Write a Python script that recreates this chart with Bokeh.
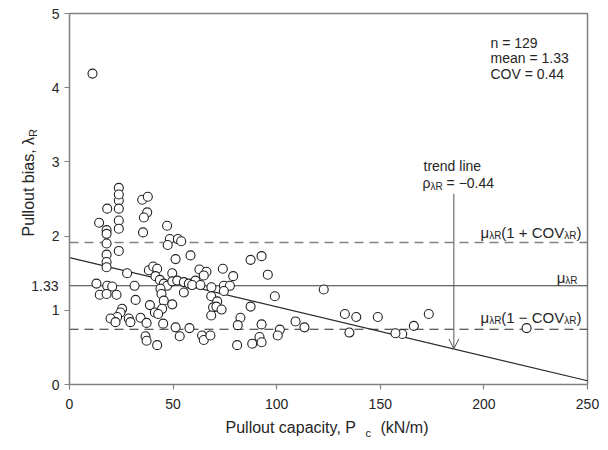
import math
from bokeh.plotting import figure
from bokeh.models import Range1d, FixedTicker, Label, Arrow, OpenHead
from bokeh.embed import file_html
from bokeh.resources import INLINE

# ---------------- data ----------------
capacity = [11.1, 14.3, 18.2, 17.9, 17.9, 17.9, 17.9, 17.9, 17.9, 23.8,
            23.8, 23.8, 23.8, 23.8, 23.8, 35.1, 37.8, 37.5, 35.9, 35.5,
            47.1, 48.4, 52.3, 53.9, 47.4, 51.2, 58.4, 27.8, 38.3, 40.4,
            42.3, 41.5, 49.6, 43.6, 45.5, 47.1, 49.6, 52.0, 55.2, 57.6,
            13.0, 18.2, 20.6, 14.6, 17.9, 22.7, 31.4, 43.9, 44.4, 55.2,
            31.9, 45.5, 49.6, 38.8, 41.2, 44.7, 42.8, 25.4, 24.6, 23.0,
            19.8, 22.2, 28.6, 29.4, 34.3, 37.2, 45.2, 51.2, 53.2, 57.9,
            36.7, 37.2, 42.3, 62.7, 66.1, 64.8, 60.8, 59.2, 63.2, 68.5,
            68.4, 71.3, 69.3, 70.9, 73.4, 68.4, 74.0, 79.0, 74.5, 77.4,
            74.5, 87.4, 92.7, 95.7, 99.1, 87.4, 82.5, 81.2, 92.7, 101.5,
            100.5, 109.1, 113.4, 64.0, 64.8, 68.0, 80.9, 88.2, 91.7, 92.7,
            122.7, 132.9, 138.4, 148.8, 135.1, 173.4, 166.2, 160.6, 157.3, 220.6,
            23.8]
bias = [4.19, 2.18, 2.37, 2.08, 2.03, 1.90, 1.75, 1.65, 1.58, 2.65,
        2.48, 2.37, 2.21, 2.10, 1.80, 2.49, 2.53, 2.32, 2.25, 2.05,
        2.14, 1.96, 1.96, 1.93, 1.88, 1.69, 1.74, 1.50, 1.54, 1.59,
        1.56, 1.46, 1.50, 1.41, 1.36, 1.33, 1.39, 1.40, 1.38, 1.36,
        1.36, 1.33, 1.32, 1.21, 1.22, 1.21, 1.33, 1.29, 1.22, 1.24,
        1.14, 1.13, 1.08, 1.07, 0.97, 1.02, 0.95, 1.02, 0.97, 0.91,
        0.89, 0.84, 0.89, 0.84, 0.90, 0.83, 0.82, 0.77, 0.65, 0.76,
        0.65, 0.59, 0.53, 1.55, 1.52, 1.47, 1.40, 1.34, 1.34, 1.31,
        1.19, 1.12, 1.04, 1.05, 1.01, 0.93, 1.56, 1.46, 1.33, 1.33,
        1.26, 1.68, 1.73, 1.48, 1.19, 1.05, 0.90, 0.80, 0.81, 0.74,
        0.66, 0.85, 0.77, 0.66, 0.60, 0.66, 0.53, 0.55, 0.64, 0.57,
        1.28, 0.95, 0.91, 0.91, 0.70, 0.95, 0.79, 0.68, 0.69, 0.76,
        2.56]
n_tests = 129
mean_bias = 1.33
cov_bias = 0.44
trend_x = [0, 250]
trend_y = [1.71, 0.05]
arrow_x = 185.5
arrow_y = [2.57, 0.48]
x_ticks = [0, 50, 100, 150, 200, 250]
y_ticks = [0, 1, 2, 3, 4, 5]

# ---------------- layout constants ----------------
W, H = 608, 450
FL, FR, FT, FB = 69, 587, 13, 384   # axes box edges in canvas px
FONT = "Liberation Sans"
TXT = "#262626"
GRAY = "#808080"

x0, x1 = x_ticks[0], x_ticks[-1]
y0, y1 = y_ticks[0], y_ticks[-1]
sx = (FR - FL) / (x1 - x0)
sy = (FB - FT) / (y1 - y0)
# the plotting frame covers the whole canvas; axes are pinned at the origin
p = figure(width=W, height=H,
           x_range=Range1d(x0 - FL / sx, x1 + (W - FR) / sx),
           y_range=Range1d(y0 - (H - FB) / sy, y1 + FT / sy),
           output_backend="svg", toolbar_location=None,
           min_border_left=0, min_border_right=0,
           min_border_top=0, min_border_bottom=0)
p.title.visible = False
p.grid.visible = False
p.background_fill_color = "white"
p.border_fill_color = "white"
p.outline_line_color = None

for ax in (p.xaxis[0], p.yaxis[0]):
    ax.fixed_location = 0
    ax.axis_line_color = GRAY
    ax.axis_line_width = 1.5
    ax.major_tick_line_color = GRAY
    ax.major_tick_line_width = 1.2
    ax.major_tick_in = 0
    ax.major_tick_out = 5
    ax.minor_tick_line_color = None
    ax.major_label_text_font = FONT
    ax.major_label_text_font_size = "14px"
    ax.major_label_text_color = TXT
p.xaxis.ticker = FixedTicker(ticks=x_ticks)
p.yaxis.ticker = FixedTicker(ticks=y_ticks)
p.xaxis.bounds = (x0, x1)
p.yaxis.bounds = (y0, y1)
p.xaxis.major_label_standoff = 9
p.yaxis.major_label_standoff = 5

# top and right box edges
p.line([x0, x1, x1], [y1, y1, y0], line_color=GRAY, line_width=1.5)

# reference lines
p.line([x0, x1], [mean_bias * (1 + cov_bias)] * 2,
       line_color=GRAY, line_width=1.5, line_dash="9 6")
p.line([x0, x1], [mean_bias] * 2, line_color="#3a3a3a", line_width=1.1)
p.line([x0, x1], [mean_bias * (1 - cov_bias)] * 2,
       line_color="#2a2a2a", line_width=1.2, line_dash="9 6")

# trend line
p.line(trend_x, trend_y, line_color="#2a2a2a", line_width=1.2)

# arrow
p.add_layout(Arrow(end=OpenHead(size=10, line_color="#555555", line_width=1),
                   x_start=arrow_x, y_start=arrow_y[0], x_end=arrow_x, y_end=arrow_y[1],
                   line_color="#555555", line_width=1))

# data points
p.scatter(capacity, bias, size=9, fill_color="white", line_color="#222222",
          line_width=1.1)

# ---------------- text helpers ----------------
CW = {' ': .278, '(': .333, ')': .333, '+': .584, '=': .584, '\u2212': .584,
      '.': .278, ',': .278, '/': .278, 'A': .667, 'C': .722, 'O': .778,
      'V': .667, 'P': .667, 'N': .722, 'R': .722, 'a': .556, 'b': .556,
      'c': .5, 'd': .556, 'e': .556, 'i': .222, 'k': .5, 'l': .222, 'm': .833,
      'n': .556, 'o': .556, 'p': .556, 's': .5, 't': .278, 'u': .556, 'y': .5,
      'r': .333, '\u03bb': .5, '\u03bc': .576, '\u03c1': .569}


def textw(t, size):
    return sum(CW.get(ch, .556) for ch in t) * size


def put(text, cx, cy, size, align="left", baseline="alphabetic", angle=0.0,
        y_data=False):
    lab = Label(x=cx, y=(cy if y_data else H - cy),
                x_units="screen", y_units=("data" if y_data else "screen"),
                text=text, text_font=FONT, text_font_size=f"{size}px",
                text_align=align, text_baseline=baseline, angle=angle,
                text_color=TXT)
    p.add_layout(lab)


def rich(parts, cx, cy, size, sub_size, drop, align="left"):
    widths = [textw(t, sub_size if s else size) for t, s in parts]
    pos = cx - sum(widths) if align == "right" else cx
    for (t, s), w in zip(parts, widths):
        fs = sub_size if s else size
        lead = len(t) - len(t.lstrip(" "))
        put(t.lstrip(" "), pos + lead * CW[' '] * fs, cy + (drop if s else 0), fs)
        pos += w


# extra y label for the mean
put(f"{mean_bias:.2f}", 58, mean_bias, 14, align="right", baseline="middle", y_data=True)

# statistics box
put(f"n = {n_tests}", 490, 42, 14)
put(f"mean = {mean_bias:.2f}", 490, 57.5, 14)
put(f"COV = {cov_bias:.2f}", 490, 73, 14)

# trend annotation
put("trend line", 423, 165, 14)
rich([("\u03c1", False), ("\u03bbR", True), (" = \u22120.44", False)], 422, 182.5, 14, 10, 3.5)

# reference line labels
rich([("\u03bc", False), ("\u03bbR", True), ("(1 + COV", False), ("\u03bbR", True), (")", False)],
     581, 231.5, 15, 10, 3, align="right")
rich([("\u03bc", False), ("\u03bbR", True)], 577, 277, 15, 10, 3, align="right")
rich([("\u03bc", False), ("\u03bbR", True), ("(1 \u2212 COV", False), ("\u03bbR", True), (")", False)],
     581, 316.5, 15, 10, 3, align="right")

# x axis title
put("Pullout capacity, P", 225, 427, 16)
put("c", 365, 432, 11)
put("(kN/m)", 380, 427, 16)

# y axis title (rotated)
ytxt = "Pullout bias, \u03bb"
put(ytxt, 28, 236, 16, angle=math.pi / 2)
put("R", 32, 236 - textw(ytxt, 16), 11, angle=math.pi / 2)

open("out.html", "w").write(file_html(p, INLINE))
